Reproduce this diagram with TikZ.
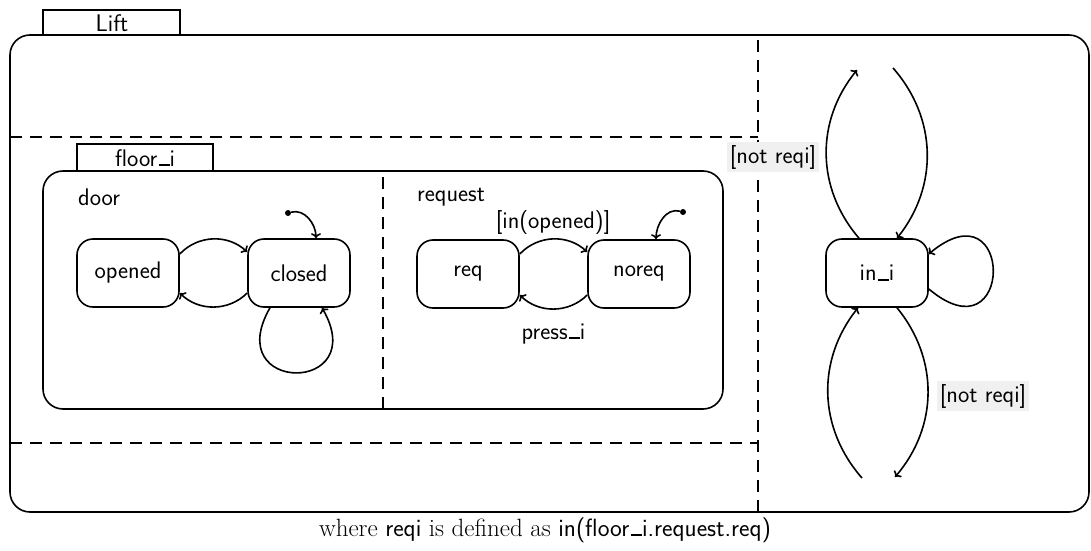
\documentclass[tikz,border=0pt]{standalone}
\usepackage{fontspec}
\usetikzlibrary{arrows.meta}

% low bar used in the sans names, as in floor_i
\newcommand{\lowbar}{\kern.06em\rule{.45em}{.08em}}

\tikzset{
  txt/.style={font=\sffamily\fontsize{24}{28}\selectfont},
  line/.style={line width=1.6pt},
  arr/.style={line width=1.6pt, -{To[length=5pt,width=10pt]}},
  dashline/.style={line width=1.6pt, dash pattern=on 12pt off 8pt},
  state/.style={draw, txt, line width=1.6pt, rounded corners=16pt,
    minimum width=102pt, minimum height=68pt},
  lbl/.style={txt, inner sep=1pt},
  guard/.style={txt, fill=black!6, inner sep=3pt},
  initdot/.style={circle, fill=black, inner sep=0pt, minimum size=6pt}
}

\begin{document}
\begin{tikzpicture}[x=1pt,y=1pt]
\useasboundingbox (0,0) rectangle (1091,550);

% outer superstate Lift with its name tab
\draw[line, rounded corners=20pt] (10,38) rectangle (1089,515);
\draw[line] (43,515) rectangle (180,540);
\node[lbl] (liftname) at (112,527) {Lift};

% orthogonal regions of Lift
\draw[dashline] (758,38) -- (758,515);
\draw[dashline] (10,413) -- (758,413);
\draw[dashline] (10,107) -- (758,107);

% superstate floor_i with its name tab
\draw[line, rounded corners=20pt] (43,141) rectangle (723,379);
\draw[line] (77,379) rectangle (213,406);
\node[lbl] (floorname) at (145,392) {floor\lowbar i};
\draw[dashline] (383,141) -- (383,379);

% region door
\node[lbl, anchor=west] (doorname) at (77,353) {door};
\node[state] (opened) at (128,277) {opened};
\node[state] (closed) at (299,277) {closed};
\node[initdot] (d1) at (288,337) {};
\draw[arr] ([yshift=19pt]opened.east) to[bend left=45] ([yshift=21pt]closed.west);
\draw[arr] ([yshift=-20pt]closed.west) to[bend left=45] ([yshift=-20pt]opened.east);
\draw[arr] ([xshift=-29pt]closed.south) .. controls +(240:100) and +(300:100) .. ([xshift=23pt]closed.south);
\draw[arr] (d1) to[out=15, in=90] ([xshift=17pt]closed.north);

% region request
\node[lbl, anchor=west] (reqname) at (416,353) {request};
\node[state] (req) at (468,276) {req};
\node[state] (noreq) at (639,276) {noreq};
\node[initdot] (d2) at (683,338) {};
\draw[arr] ([yshift=20pt]req.east) to[bend left=45] node[lbl, above=3pt] (g1) {[in(opened)]} ([yshift=22pt]noreq.west);
\draw[arr] ([yshift=-21pt]noreq.west) to[bend left=45] node[lbl, below=13pt] (e1) {press\lowbar i} ([yshift=-21pt]req.east);
\draw[arr] (d2) to[out=165, in=90] ([xshift=17pt]noreq.north);

% region of the lift position
\node[state] (ini) at (877,277) {in\lowbar i};
\coordinate (upL) at (857,480);
\coordinate (upR) at (893,482);
\coordinate (dnL) at (862,72);
\coordinate (dnR) at (895,73);
\draw[arr] ([xshift=-18pt]ini.north) to[bend left=40] (upL);
\draw[arr] (upR) to[bend left=40] ([xshift=20pt]ini.north);
\draw[arr] (dnL) to[bend left=40] ([xshift=-19pt]ini.south);
\draw[arr] ([xshift=20pt]ini.south) to[bend left=40] (dnR);
\draw[arr] ([yshift=-16pt]ini.east) .. controls +(-40:112) and +(40:112) .. ([yshift=19pt]ini.east);

\node[guard] (ng1) at (773,393) {[not reqi]};
\node[guard] (ng2) at (983,154) {[not reqi]};

% definition of the guard
\node[font=\fontsize{25}{30}\selectfont] (caption) at (545,20)
  {where {\sffamily reqi} is defined as {\sffamily in(floor\lowbar i.request.req)}};
\end{tikzpicture}
\end{document}
